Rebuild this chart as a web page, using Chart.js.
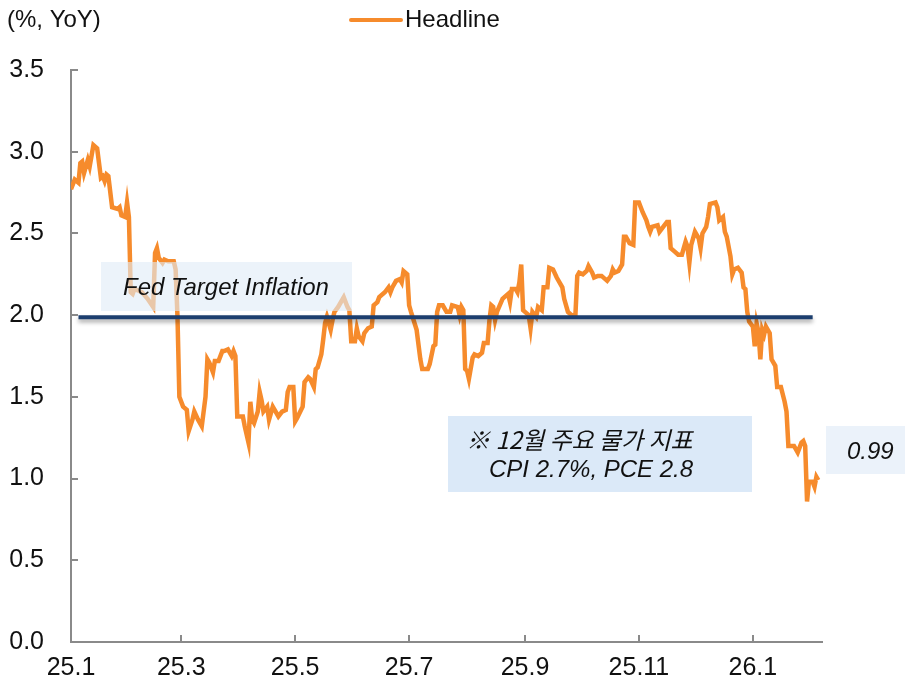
<!DOCTYPE html>
<html>
<head>
<meta charset="utf-8">
<script src="https://cdn.jsdelivr.net/npm/chart.js@4.4.1/dist/chart.umd.min.js"></script>
<style>
  html, body { margin: 0; padding: 0; background: #fff; }
  #wrap { width: 905px; height: 684px; }
</style>
</head>
<body>
<div id="wrap"><canvas id="myChart" width="905" height="684"></canvas></div>
<script>
// days counted from 2025-01-01
let days = [0, 2, 4, 5, 6, 7, 9, 10, 12, 14, 15, 16, 17, 18, 19, 20, 22, 25, 26, 27, 29, 30, 31, 32, 33, 34, 38, 41, 44, 45, 46, 47, 49, 50, 52, 55, 56, 57, 58, 60, 62, 63, 65, 66, 68, 70, 72, 73, 74, 76, 77, 79, 81, 82, 84, 86, 87, 88, 89, 92, 93, 95, 96, 97, 98, 100, 101, 102, 103, 105, 106, 108, 109, 111, 113, 115, 116, 117, 119, 120, 121, 124, 125, 127, 128, 130, 131, 132, 134, 135, 136, 137, 139, 140, 141, 143, 146, 148, 149, 150, 152, 153, 154, 156, 157, 159, 161, 162, 164, 165, 168, 170, 171, 172, 174, 176, 177, 178, 180, 181, 182, 185, 187, 188, 191, 192, 194, 195, 196, 197, 199, 201, 203, 204, 207, 208, 209, 210, 211, 212, 213, 215, 216, 218, 220, 221, 223, 224, 225, 226, 227, 228, 231, 232, 234, 235, 236, 238, 239, 240, 241, 242, 243, 245, 246, 247, 249, 250, 252, 253, 255, 256, 258, 260, 263, 264, 266, 268, 270, 271, 272, 274, 276, 277, 279, 280, 282, 284, 287, 289, 290, 291, 293, 295, 296, 297, 299, 301, 302, 304, 306, 308, 309, 310, 311, 314, 315, 317, 319, 320, 321, 323, 325, 327, 329, 330, 331, 332, 334, 336, 337, 338, 340, 341, 342, 345, 346, 347, 349, 350, 351, 353, 354, 355, 357, 359, 360, 361, 362, 363, 365, 366, 367, 368, 369, 370, 371, 372, 374, 375, 377, 378, 380, 382, 383, 384, 386, 387, 389, 391, 392, 393, 394, 395, 397, 398, 399, 400];
let headline = [2.77, 2.83, 2.81, 2.93, 2.94, 2.87, 2.95, 2.91, 3.04, 3.02, 2.93, 2.84, 2.85, 2.82, 2.86, 2.85, 2.66, 2.65, 2.66, 2.61, 2.60, 2.69, 2.60, 2.14, 2.13, 2.16, 2.14, 2.10, 2.05, 2.38, 2.41, 2.35, 2.32, 2.34, 2.33, 2.33, 2.28, 1.99, 1.50, 1.44, 1.42, 1.29, 1.36, 1.41, 1.36, 1.32, 1.50, 1.73, 1.71, 1.65, 1.72, 1.72, 1.78, 1.78, 1.79, 1.75, 1.78, 1.75, 1.38, 1.38, 1.32, 1.22, 1.47, 1.36, 1.34, 1.41, 1.53, 1.48, 1.41, 1.44, 1.36, 1.44, 1.42, 1.38, 1.41, 1.42, 1.53, 1.56, 1.56, 1.35, 1.37, 1.44, 1.59, 1.62, 1.61, 1.56, 1.67, 1.68, 1.76, 1.85, 1.95, 1.99, 1.91, 1.97, 2.02, 2.05, 2.11, 2.05, 2.03, 1.84, 1.84, 1.92, 1.87, 1.84, 1.89, 1.92, 1.93, 2.06, 2.08, 2.11, 2.14, 2.17, 2.14, 2.17, 2.21, 2.22, 2.20, 2.27, 2.25, 2.06, 2.02, 1.91, 1.73, 1.67, 1.67, 1.70, 1.81, 1.82, 2.02, 2.06, 2.06, 2.02, 2.02, 2.06, 2.05, 2.00, 2.05, 2.03, 1.67, 1.66, 1.61, 1.74, 1.76, 1.75, 1.77, 1.83, 1.83, 1.97, 2.06, 2.05, 1.97, 2.02, 2.10, 2.11, 2.13, 2.08, 2.16, 2.16, 2.14, 2.20, 2.31, 2.03, 2.02, 2.00, 1.92, 2.02, 1.99, 2.05, 2.03, 2.17, 2.17, 2.29, 2.28, 2.23, 2.17, 2.10, 2.02, 2.00, 2.00, 2.24, 2.26, 2.25, 2.27, 2.30, 2.26, 2.23, 2.24, 2.24, 2.21, 2.24, 2.28, 2.26, 2.27, 2.31, 2.48, 2.48, 2.44, 2.43, 2.69, 2.69, 2.63, 2.58, 2.54, 2.51, 2.54, 2.55, 2.51, 2.54, 2.57, 2.57, 2.41, 2.39, 2.37, 2.37, 2.45, 2.42, 2.32, 2.43, 2.51, 2.47, 2.41, 2.50, 2.54, 2.60, 2.68, 2.69, 2.66, 2.58, 2.60, 2.51, 2.48, 2.36, 2.25, 2.28, 2.29, 2.26, 2.17, 2.16, 2.02, 1.96, 1.93, 1.81, 1.95, 1.90, 1.73, 1.91, 1.88, 1.93, 1.89, 1.73, 1.69, 1.56, 1.56, 1.47, 1.41, 1.20, 1.20, 1.20, 1.16, 1.22, 1.23, 1.20, 0.86, 0.98, 0.98, 0.95, 1.01, 0.99];

// x axis ticks (first day of every other month) and their labels
let xTickDays = [0, 59, 120, 181, 243, 304, 365];
let xTickLabels = ['25.1', '25.3', '25.5', '25.7', '25.9', '25.11', '26.1'];
// fed target line
let targetDays = [4, 397];
let targetValue = 2.0;
let lastValue = headline[headline.length - 1];

let points = days.map((d, i) => ({ x: d, y: headline[i] }));

const axisColor = '#8a8a8a';
const font = "'Liberation Sans', Arial, sans-serif";

// draws the little inward ticks, the fed line and the text boxes
const extras = {
    id: 'extras',
    afterDatasetsDraw(chart) {
        const { ctx, chartArea, scales } = chart;
        const x = scales.x, y = scales.y;
        ctx.save();

        // inward tick marks
        ctx.strokeStyle = axisColor;
        ctx.lineWidth = 2;
        y.ticks.forEach(t => {
            const py = Math.round(y.getPixelForValue(t.value));
            ctx.beginPath();
            ctx.moveTo(chartArea.left, py);
            ctx.lineTo(chartArea.left + 7, py);
            ctx.stroke();
        });
        x.ticks.forEach(t => {
            const px = Math.round(x.getPixelForValue(t.value));
            ctx.beginPath();
            ctx.moveTo(px, chartArea.bottom);
            ctx.lineTo(px, chartArea.bottom - 7);
            ctx.stroke();
        });

        // fed target line with a soft shadow
        const ty = y.getPixelForValue(targetValue) + 2;
        ctx.shadowColor = 'rgba(0,0,0,0.35)';
        ctx.shadowBlur = 4;
        ctx.shadowOffsetY = 3;
        ctx.strokeStyle = '#1c3e6e';
        ctx.lineWidth = 4;
        ctx.beginPath();
        ctx.moveTo(x.getPixelForValue(targetDays[0]), ty);
        ctx.lineTo(x.getPixelForValue(targetDays[1]), ty);
        ctx.stroke();
        ctx.shadowColor = 'transparent';
        ctx.shadowBlur = 0;
        ctx.shadowOffsetY = 0;

        // Fed Target Inflation box (see-through)
        ctx.fillStyle = 'rgba(224,235,247,0.62)';
        ctx.fillRect(101, 262, 251, 49);
        ctx.fillStyle = '#111';
        ctx.font = "italic 24px " + font;
        ctx.textBaseline = 'middle';
        ctx.textAlign = 'left';
        ctx.fillText('Fed Target Inflation', 123, 288);

        // December note box
        ctx.fillStyle = '#dbe9f8';
        ctx.fillRect(448, 416, 304, 76);
        ctx.fillStyle = '#111';
        ctx.font = "italic 24px 'Noto Sans CJK KR', " + font;
        ctx.fillText('※ 12월 주요 물가 지표', 466, 440);
        ctx.font = "italic 24px " + font;
        ctx.fillText('CPI 2.7%, PCE 2.8', 489, 470);

        // last value box
        ctx.fillStyle = '#ebf2fa';
        ctx.fillRect(826, 426, 79, 48);
        ctx.fillStyle = '#111';
        ctx.font = "italic 24px " + font;
        ctx.fillText(lastValue.toFixed(2), 847, 452);

        // unit and legend
        ctx.font = "24px " + font;
        ctx.fillText('(%, YoY)', 7, 20);
        ctx.strokeStyle = '#f68b2c';
        ctx.lineWidth = 4;
        ctx.lineCap = 'round';
        ctx.beginPath();
        ctx.moveTo(351, 20);
        ctx.lineTo(401, 20);
        ctx.stroke();
        ctx.fillText('Headline', 405, 20);

        ctx.restore();
    }
};

let ctx = document.getElementById('myChart').getContext('2d');
let xchart = new Chart(ctx, {
    type: 'line',
    data: {
        datasets: [{
            label: 'Headline',
            data: points,
            borderColor: '#f68b2c',
            borderWidth: 4.5,
            pointRadius: 0,
            tension: 0,
            fill: false
        }]
    },
    options: {
        responsive: false,
        animation: false,
        layout: { padding: { top: 70, right: 83, bottom: 0, left: 0 } },
        plugins: {
            legend: { display: false },
            tooltip: { enabled: false }
        },
        scales: {
            x: {
                type: 'linear',
                min: 0,
                max: 402,
                afterBuildTicks: s => { s.ticks = xTickDays.map(v => ({ value: v })); },
                afterFit: s => { s.height = 41; },
                grid: { display: true, drawOnChartArea: false, drawTicks: false },
                border: { display: true, color: axisColor, width: 2 },
                ticks: {
                    padding: 11,
                    color: '#111',
                    font: { family: font, size: 25 },
                    maxRotation: 0,
                    autoSkip: false,
                    callback: v => xTickLabels[xTickDays.indexOf(v)]
                }
            },
            y: {
                min: 0,
                max: 3.5,
                afterFit: s => { s.width = 71; },
                grid: { display: true, drawOnChartArea: false, drawTicks: false },
                border: { display: true, color: axisColor, width: 2 },
                ticks: {
                    stepSize: 0.5,
                    padding: 27,
                    color: '#111',
                    font: { family: font, size: 25 },
                    callback: v => v.toFixed(1)
                }
            }
        }
    },
    plugins: [extras]
});
</script>
</body>
</html>
